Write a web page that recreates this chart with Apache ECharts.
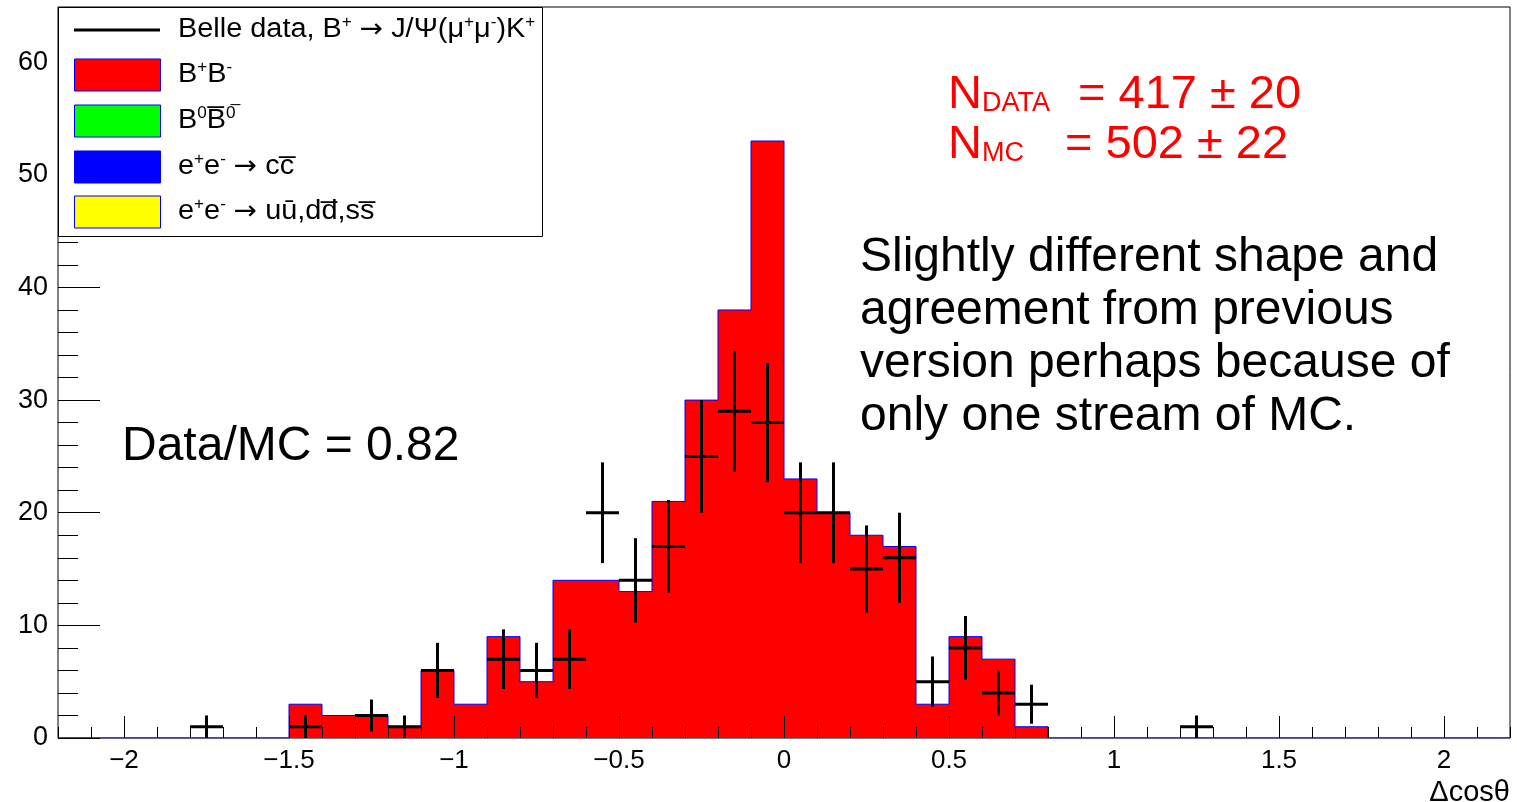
<!DOCTYPE html>
<html><head><meta charset="utf-8">
<script src="https://cdn.jsdelivr.net/npm/echarts@6/dist/echarts.min.js"></script>
<style>html,body{margin:0;padding:0;background:#fff}#c{width:1517px;height:802px}</style>
</head><body><div id="c"></div>
<script>
// ---- data ----
const xRange = [-2.2, 2.2];
const binWidth = 0.1;
const yMax = 64.9;
const xMajorTicks = [-2, -1.5, -1, -0.5, 0, 0.5, 1, 1.5, 2];
const yTickInterval = 10;
const mcCenters = [-1.45,-1.35,-1.25,-1.15,-1.05,-0.95,-0.85,-0.75,-0.65,-0.55,-0.45,-0.35,-0.25,-0.15,-0.05,0.05,0.15,0.25,0.35,0.45,0.55,0.65,0.75];
const mcCounts  = [3,2,2,1,6,3,9,5,14,14,13,21,30,38,53,23,20,18,17,3,9,7,1];
const dataCenters = [-1.75,-1.45,-1.25,-1.15,-1.05,-0.85,-0.75,-0.65,-0.55,-0.45,-0.35,-0.25,-0.15,-0.05,0.05,0.15,0.25,0.35,0.45,0.55,0.65,0.75,1.25];
const dataCounts  = [1,1,2,1,6,7,6,7,20,14,17,25,29,28,20,20,15,16,5,8,4,3,1];
const legendLabels = [
  'Belle data, B{sup|+} {arr|\u2192} J/\u03A8(\u03BC{sup|+}\u03BC{sup|-})K{sup|+}',
  'B{sup|+}B{sup|-}',
  'B{sup|0}B\u0305{sup|0\u0305}',
  'e{sup|+}e{sup|-} {arr|\u2192} cc\u0305',
  'e{sup|+}e{sup|-} {arr|\u2192} u\u016B,dd\u0305,ss\u0305'
];
const legendColors = ['#000000', '#ff0000', '#00ff00', '#0000ff', '#ffff00'];
const axisTitle = '\u0394cos\u03B8';
const nTexts = [['N', 'DATA', '= 417 \u00B1 20'], ['N', 'MC', '= 502 \u00B1 22']];
const noteText = 'Slightly different shape and\nagreement from previous\nversion perhaps because of\nonly one stream of MC.';
const ratioText = 'Data/MC = 0.82';

// ---- build ----
const FONT = '"Liberation Sans", Arial, Helvetica, sans-serif';
const nBins = Math.round((xRange[1] - xRange[0]) / binWidth);
const full = new Array(nBins).fill(0);
mcCenters.forEach((c, i) => { full[Math.round((c - xRange[0]) / binWidth - 0.5)] = mcCounts[i]; });
const outline = [];
for (let k = 0; k < nBins; k++) {
  const lo = +(xRange[0] + k * binWidth).toFixed(4), hi = +(lo + binWidth).toFixed(4);
  outline.push([lo, full[k]], [hi, full[k]]);
}
const dataPts = dataCenters.map((c, i) => [c, dataCounts[i]]);

const fmtX = v => (v < 0 ? '\u2212' + String(Math.abs(v)) : String(v));

const Z = 100;
const legendRowY = [30, 75, 121, 167, 212];
const legendChildren = [
  { type: 'rect', z: Z, shape: { x: 58.5, y: 7.5, width: 484, height: 229 }, style: { fill: '#fff', stroke: '#000', lineWidth: 1 } }
];
legendLabels.forEach((lab, i) => {
  const cy = legendRowY[i];
  if (i === 0) {
    legendChildren.push({ type: 'line', z: Z + 1, shape: { x1: 74, y1: cy, x2: 160, y2: cy }, style: { stroke: legendColors[i], lineWidth: 3 } });
  } else {
    legendChildren.push({ type: 'rect', z: Z + 1, shape: { x: 74.5, y: cy - 16, width: 86, height: 32 }, style: { fill: legendColors[i], stroke: '#0000ff', lineWidth: 1 } });
  }
  legendChildren.push({
    type: 'text', z: Z + 1, x: 178, y: cy, scaleX: 1.07,
    style: {
      text: lab, fill: '#000', fontSize: 27, fontFamily: FONT, verticalAlign: 'middle', align: 'left',
      lineHeight: 30,
      rich: {
        sup: { fontSize: 16, fontFamily: FONT, verticalAlign: 'top', lineHeight: 12 },
        arr: { fontSize: 26, fontFamily: '"DejaVu Sans", sans-serif', lineHeight: 30 }
      }
    }
  });
});

const textEls = [];
nTexts.forEach((t, i) => {
  const base = 112 + i * 50;
  textEls.push({ type: 'text', z: Z, x: 948, y: base - 16.5, style: { text: t[0], fill: '#ff0000', fontSize: 47, fontFamily: FONT, verticalAlign: 'middle' } });
  textEls.push({ type: 'text', z: Z, x: 982, y: base + 1 - 9.5, style: { text: t[1], fill: '#ff0000', fontSize: 27, fontFamily: FONT, verticalAlign: 'middle' } });
  textEls.push({ type: 'text', z: Z, x: i === 0 ? 1078 : 1065, y: base - 16.5, style: { text: t[2], fill: '#ff0000', fontSize: 47, fontFamily: FONT, verticalAlign: 'middle' } });
});
textEls.push({ type: 'text', z: Z, x: 860, y: 231, style: { text: noteText, fill: '#000', fontSize: 48, lineHeight: 53, fontFamily: FONT, verticalAlign: 'top' } });
textEls.push({ type: 'text', z: Z, x: 122, y: 447, style: { text: ratioText, fill: '#000', fontSize: 48, fontFamily: FONT, verticalAlign: 'middle' } });

const chart = echarts.init(document.getElementById('c'), null, { renderer: 'canvas' });
chart.setOption({
  animation: false,
  backgroundColor: '#fff',
  grid: { left: 58, right: 7, top: 7, bottom: 64, containLabel: false, outerBoundsMode: 'none', show: true, borderColor: '#000', borderWidth: 1, backgroundColor: 'transparent' },
  xAxis: [
    {
      type: 'value', min: xRange[0], max: xRange[1], interval: binWidth, z: 10,
      axisLine: { show: false, onZero: false }, splitLine: { show: false },
      axisTick: { show: true, inside: true, length: 11, lineStyle: { color: '#000', width: 1 } },
      axisLabel: { customValues: xMajorTicks, formatter: fmtX, fontSize: 26, color: '#000', fontFamily: FONT, margin: 10 },
      name: axisTitle, nameLocation: 'end', nameGap: 0,
      nameTextStyle: { fontSize: 29, color: '#000', fontFamily: FONT, align: 'right', verticalAlign: 'top', padding: [40, 0, 0, 0] }
    },
    {
      type: 'value', min: xRange[0], max: xRange[1], position: 'bottom', z: 10,
      axisLine: { show: false, onZero: false }, splitLine: { show: false },
      axisTick: { show: true, inside: true, length: 22, customValues: xMajorTicks, lineStyle: { color: '#000', width: 1 } },
      axisLabel: { show: false }
    }
  ],
  yAxis: {
    type: 'value', min: 0, max: yMax, interval: yTickInterval, z: 10, position: 'left',
    axisLine: { show: false, onZero: false }, splitLine: { show: false },
    axisTick: { show: true, inside: true, length: 42, lineStyle: { color: '#000', width: 1 } },
    minorTick: { show: true, splitNumber: 5, length: 20, lineStyle: { color: '#000', width: 1 } },
    axisLabel: { fontSize: 27, color: '#000', fontFamily: FONT, margin: 10, showMaxLabel: false }
  },
  series: [
    {
      name: 'B+B-', type: 'line', data: outline, symbol: 'none', xAxisIndex: 0, yAxisIndex: 0,
      lineStyle: { color: '#0000ff', width: 1 }, areaStyle: { color: '#ff0000', opacity: 1 }, z: 2
    },
    {
      name: 'Belle data', type: 'custom', data: dataPts, xAxisIndex: 0, yAxisIndex: 0, z: 3,
      renderItem: (params, api) => {
        const x = api.value(0), n = api.value(1), e = Math.sqrt(n);
        const pL = api.coord([x - binWidth / 2, n]), pR = api.coord([x + binWidth / 2, n]);
        const pT = api.coord([x, n + e]), pB = api.coord([x, n - e]);
        const st = { stroke: '#000', lineWidth: 3 };
        return { type: 'group', children: [
          { type: 'line', shape: { x1: pL[0], y1: pL[1], x2: pR[0], y2: pR[1] }, style: st },
          { type: 'line', shape: { x1: pT[0], y1: pT[1], x2: pB[0], y2: pB[1] }, style: st }
        ] };
      }
    }
  ],
  graphic: [
    { type: 'group', z: Z, children: legendChildren },
    { type: 'group', z: Z, children: textEls }
  ]
});
</script></body></html>
